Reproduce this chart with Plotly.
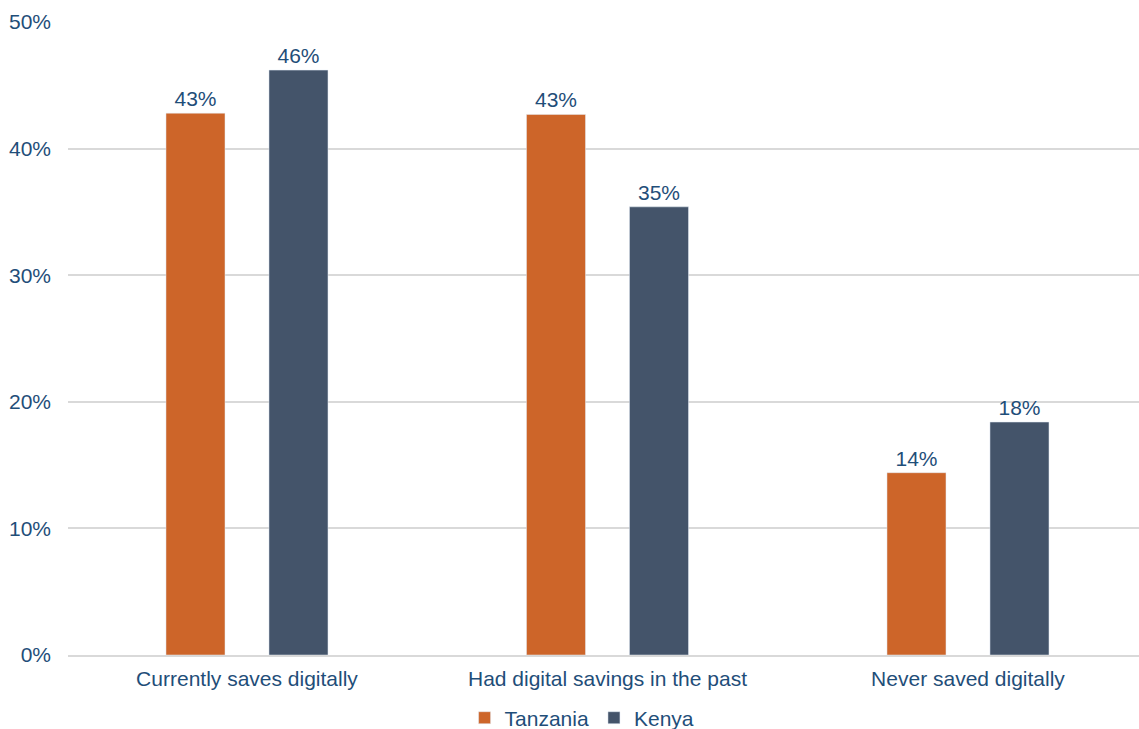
import plotly.graph_objects as go

categories = ["Currently saves digitally", "Had digital savings in the past", "Never saved digitally"]
tanzania = [42.8, 42.7, 14.4]
kenya = [46.2, 35.4, 18.4]
y_ticks = [0, 10, 20, 30, 40, 50]
y_tick_labels = [f"{v}%" for v in y_ticks]

text_color = "#1F4E79"
font_family = "Liberation Sans, Arial, sans-serif"
font_size = 21

fig = go.Figure()
fig.add_trace(go.Bar(
    name="Tanzania", x=categories, y=tanzania, marker_color="#CD6529",
    texttemplate="%{y:.0f}%", textposition="outside",
    textfont=dict(color=text_color, size=font_size, family=font_family), cliponaxis=False,
))
fig.add_trace(go.Bar(
    name="Kenya", x=categories, y=kenya, marker_color="#44546A",
    texttemplate="%{y:.0f}%", textposition="outside",
    textfont=dict(color=text_color, size=font_size, family=font_family), cliponaxis=False,
))

fig.update_layout(
    width=1139, height=729,
    margin=dict(l=68, r=0, t=22, b=74, autoexpand=False),
    barmode="group", bargap=0.4286, bargroupgap=0.427,
    plot_bgcolor="white", paper_bgcolor="white",
    font=dict(family=font_family, color=text_color, size=font_size),
    showlegend=True,
    legend=dict(orientation="h", x=0.48, xanchor="center", yref="container", y=0.015,
                yanchor="middle", font=dict(size=font_size, color=text_color),
                itemwidth=30, traceorder="normal"),
    xaxis=dict(range=[-0.4965, 2.4744], showgrid=False, showline=True,
               linecolor="#D9D9D9", linewidth=2,
               tickfont=dict(size=font_size, color=text_color), ticks="",
               ticklabelstandoff=4, automargin=False),
    yaxis=dict(range=[0, 50], tickvals=y_ticks, ticktext=y_tick_labels,
               showgrid=True, gridcolor="#D9D9D9", gridwidth=2, zeroline=False,
               tickfont=dict(size=font_size, color=text_color), ticks="",
               ticklabelstandoff=16, automargin=False),
)

fig.write_html("out.html")
